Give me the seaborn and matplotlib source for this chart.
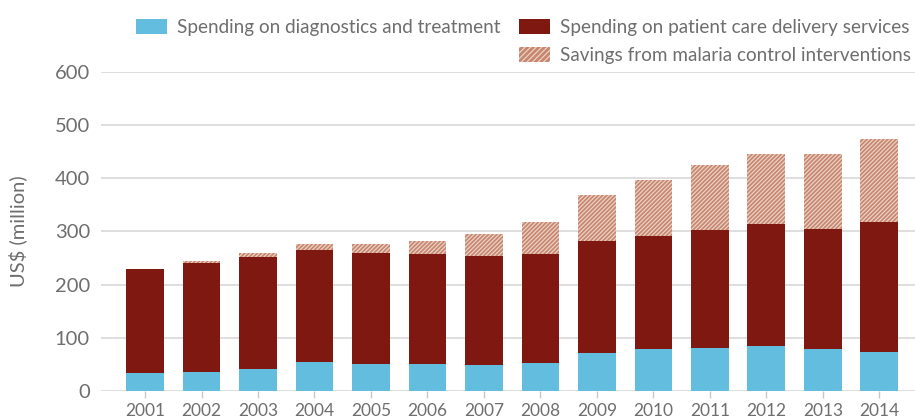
import numpy as np
import pandas as pd
import seaborn as sns
import matplotlib.pyplot as plt
from matplotlib.patches import Patch

# Malaria case management spending, US$ million
years = ["2001", "2002", "2003", "2004", "2005", "2006", "2007",
         "2008", "2009", "2010", "2011", "2012", "2013", "2014"]
diagnostics = [34, 36, 41, 55, 51, 51, 49, 53, 72, 79, 81, 85, 79, 73]
delivery = [196, 204, 211, 211, 209, 207, 205, 205, 211, 213, 222, 229, 226, 244]
savings = [0, 5, 8, 11, 17, 24, 42, 60, 86, 105, 122, 132, 141, 157]
y_ticks = [0, 100, 200, 300, 400, 500, 600]

labels = ["Spending on diagnostics and treatment",
          "Spending on patient care delivery services",
          "Savings from malaria control interventions"]

BLUE = "#62bddf"
RED = "#801812"
SALMON = "#c68670"
HATCH = "#ecd2c4"
TEXT = "#6e6e6e"
GRID = "#dedede"

df = pd.DataFrame({"year": years,
                   "diag": diagnostics,
                   "deliv": delivery,
                   "sav": savings})
df["top_spend"] = df["diag"] + df["deliv"]
df["top_all"] = df["top_spend"] + df["sav"]

sns.set_theme(style="white")
plt.rcParams["font.family"] = ["Lato", "DejaVu Sans"]
plt.rcParams["hatch.linewidth"] = 0.9

fig = plt.figure(figsize=(9.15, 4.18), dpi=100)
ax = fig.add_axes([101 / 915, 27 / 418, 814 / 915, 319 / 418])

for y in y_ticks:
    ax.axhline(y, color=GRID, lw=1.4, zorder=0)

bw = 0.67
HATCH_PAT = "/" * 8
# Layered cumulative bars: savings on top, then delivery, then diagnostics
sns.barplot(data=df, x="year", y="top_all", color=SALMON, saturation=1,
            width=bw, errorbar=None, ax=ax, zorder=2, linewidth=0)
n = len(years)
for p in ax.patches[:n]:
    p.set_hatch(HATCH_PAT)
    p.set_edgecolor(HATCH)
    p.set_linewidth(0)
sns.barplot(data=df, x="year", y="top_spend", color=RED, saturation=1,
            width=bw, errorbar=None, ax=ax, zorder=3, linewidth=0)
sns.barplot(data=df, x="year", y="diag", color=BLUE, saturation=1,
            width=bw, errorbar=None, ax=ax, zorder=4, linewidth=0)

ax.set_xlim(-0.779, 13.63)
ax.set_ylim(0, 600)
ax.set_yticks(y_ticks)
ax.set_yticklabels([str(v) for v in y_ticks])
for s in ["top", "right", "left", "bottom"]:
    ax.spines[s].set_visible(False)

ax.tick_params(axis="y", length=0, pad=8, labelsize=14.5, labelcolor=TEXT)
ax.tick_params(axis="x", length=5, width=1, color="#c8c8c8", pad=4,
               labelsize=12.5, labelcolor=TEXT, bottom=True)
ax.set_xlabel("")
ax.set_ylabel("US$ (million)", fontsize=14.5, color=TEXT, labelpad=20)

handles = [
    Patch(facecolor=BLUE, edgecolor="none"),
    Patch(facecolor="none", edgecolor="none"),
    Patch(facecolor=RED, edgecolor="none"),
    Patch(facecolor=SALMON, edgecolor=HATCH, hatch="/" * 6, linewidth=0),
]
leg_labels = [labels[0], "", labels[1], labels[2]]
leg = fig.legend(handles, leg_labels, ncol=2, loc="upper right",
                 bbox_to_anchor=(1.014, 0.995), frameon=False,
                 fontsize=13.6, handlelength=1.65, handleheight=0.85,
                 handletextpad=0.5, columnspacing=1.0, labelspacing=0.55,
                 labelcolor=TEXT)

fig.savefig("out.png", dpi=100)
